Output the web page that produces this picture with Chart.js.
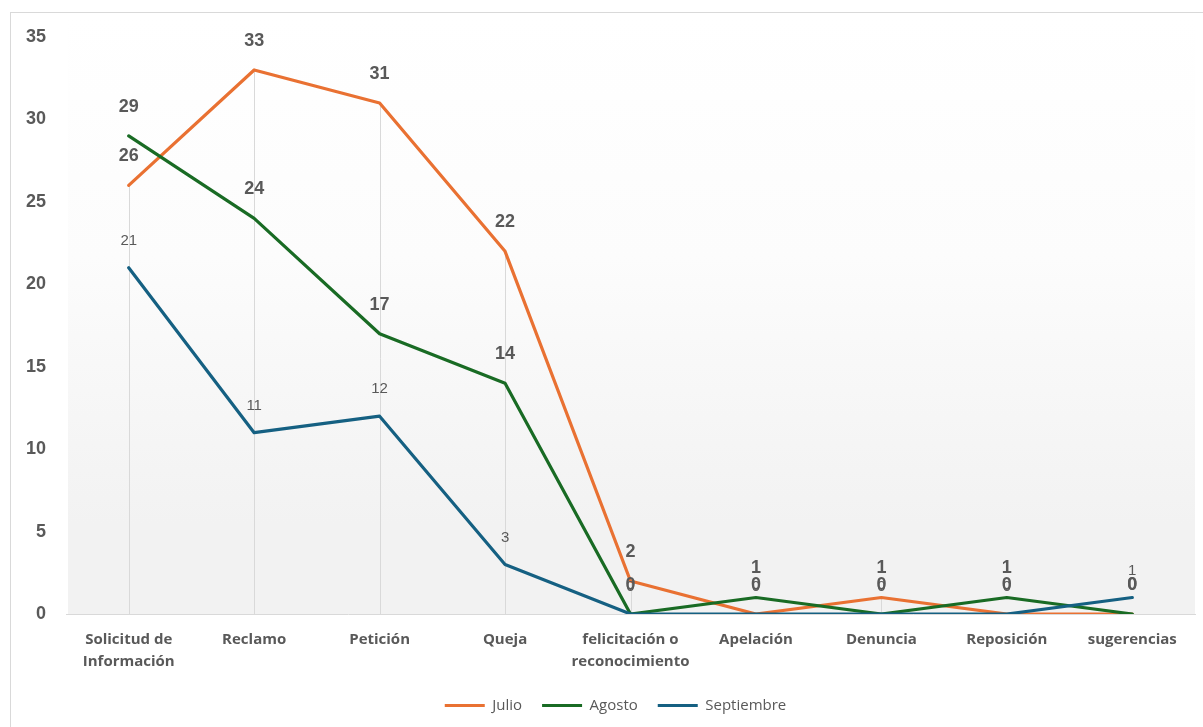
<!DOCTYPE html>
<html>
<head>
<meta charset="utf-8">
<script src="https://cdn.jsdelivr.net/npm/chart.js@4.4.1/dist/chart.umd.min.js"></script>
<style>
  body { margin: 0; background: #fff; }
  #wrap { position: relative; width: 1203px; height: 727px; overflow: hidden; }
  #frame { position: absolute; left: 10px; top: 12px; width: 1210px; height: 740px; border: 1px solid #d9d9d9; }
  canvas { position: absolute; left: 0; top: 0; }
</style>
</head>
<body>
<div id="wrap">
  <div id="frame"></div>
  <canvas id="chart" width="1203" height="727"></canvas>
</div>
<script>
// categories and series
var categories = [
  ['Solicitud de', 'Información'], 'Reclamo', 'Petición', 'Queja',
  ['felicitación o', 'reconocimiento'], 'Apelación', 'Denuncia', 'Reposición', 'sugerencias'
];
var julio = [26, 33, 31, 22, 2, 0, 1, 0, 0];
var agosto = [29, 24, 17, 14, 0, 1, 0, 1, 0];
var septiembre = [21, 11, 12, 3, 0, 0, 0, 0, 1];
var yTicks = [0, 5, 10, 15, 20, 25, 30, 35];

var grey = '#595959';

// gradient behind the plot + drop lines from the first series
var plotBackground = {
    id: 'plotBackground',
    beforeDraw: function (chart) {
        // legend sits a little right of centre in the original
        var lg = chart.legend;
        if (lg && !lg._shifted) { lg.left += 18; lg.right += 18; lg._shifted = true; }
    },
    beforeDatasetsDraw: function (chart) {
        var ctx = chart.ctx, a = chart.chartArea;
        var top = 17;
        var g = ctx.createLinearGradient(0, top, 0, a.bottom);
        g.addColorStop(0, '#ffffff');
        g.addColorStop(0.4, '#fcfcfc');
        g.addColorStop(0.85, '#f2f2f2');
        g.addColorStop(1, '#f2f2f2');
        ctx.save();
        ctx.fillStyle = g;
        ctx.fillRect(a.left + 2, top, a.right - a.left - 2, a.bottom - top);

        var meta = chart.getDatasetMeta(0);
        ctx.strokeStyle = '#d9d9d9';
        ctx.lineWidth = 1;
        meta.data.forEach(function (p) {
            ctx.beginPath();
            ctx.moveTo(Math.round(p.x) + 0.5, p.y);
            ctx.lineTo(Math.round(p.x) + 0.5, a.bottom);
            ctx.stroke();
        });
        ctx.restore();
    }
};

// value labels above each point
var valueLabels = {
    id: 'valueLabels',
    afterDatasetsDraw: function (chart) {
        var ctx = chart.ctx;
        ctx.save();
        ctx.textAlign = 'center';
        ctx.textBaseline = 'middle';
        [2, 1, 0].forEach(function (i) {
            var ds = chart.data.datasets[i];
            var meta = chart.getDatasetMeta(i);
            var small = i === 2;
            ctx.font = small ? '15px "Liberation Sans", Arial' : 'bold 18px "Liberation Sans", Arial';
            ctx.fillStyle = grey;
            meta.data.forEach(function (p, j) {
                ctx.fillText(String(ds.data[j]), p.x, p.y - (small ? 27 : 29));
            });
        });
        ctx.restore();
    }
};

function series(label, data, color, order) {
    return {
        label: label, data: data, order: order,
        borderColor: color, backgroundColor: color,
        pointBorderColor: color, pointBackgroundColor: color, pointBorderWidth: 3
    };
}

var ctx = document.getElementById('chart').getContext('2d');
var chart = new Chart(ctx, {
    type: 'line',
    data: {
        labels: categories,
        datasets: [
            series('Julio', julio, '#E97132', 3),
            series('Agosto', agosto, '#196B24', 2),
            series('Septiembre', septiembre, '#156082', 1)
        ]
    },
    options: {
        responsive: false,
        animation: false,
        layout: { padding: { top: 37, right: 8, bottom: 4, left: 0 } },
        elements: {
            line: { borderWidth: 3.2, tension: 0, borderCapStyle: 'round', borderJoinStyle: 'round' },
            point: { radius: 0, hoverRadius: 0 }
        },
        scales: {
            x: {
                offset: true,
                grid: { display: false, drawTicks: false },
                border: { display: true, color: '#d9d9d9', width: 1 },
                ticks: {
                    color: grey,
                    padding: 14,
                    maxRotation: 0,
                    autoSkip: false,
                    font: { family: '"Open Sans"', weight: 'bold', size: 15, lineHeight: 1.5 }
                },
                afterFit: function (scale) { scale.height = 64; }
            },
            y: {
                min: 0,
                max: 35,
                grid: { display: false, drawTicks: false },
                border: { display: false },
                afterBuildTicks: function (scale) {
                    scale.ticks = yTicks.map(function (v) { return { value: v }; });
                },
                ticks: {
                    color: grey,
                    padding: 20,
                    font: { family: '"Liberation Sans", Arial', weight: 'bold', size: 18 }
                },
                afterFit: function (scale) { scale.width = 66; }
            }
        },
        plugins: {
            tooltip: { enabled: false },
            legend: {
                position: 'bottom',
                labels: {
                    usePointStyle: true,
                    pointStyle: 'line',
                    pointStyleWidth: 40,
                    padding: 20,
                    color: grey,
                    font: { family: '"Open Sans"', size: 15 },
                    sort: function (a, b) { return a.datasetIndex - b.datasetIndex; }
                }
            }
        }
    },
    plugins: [plotBackground, valueLabels]
});
</script>
</body>
</html>
